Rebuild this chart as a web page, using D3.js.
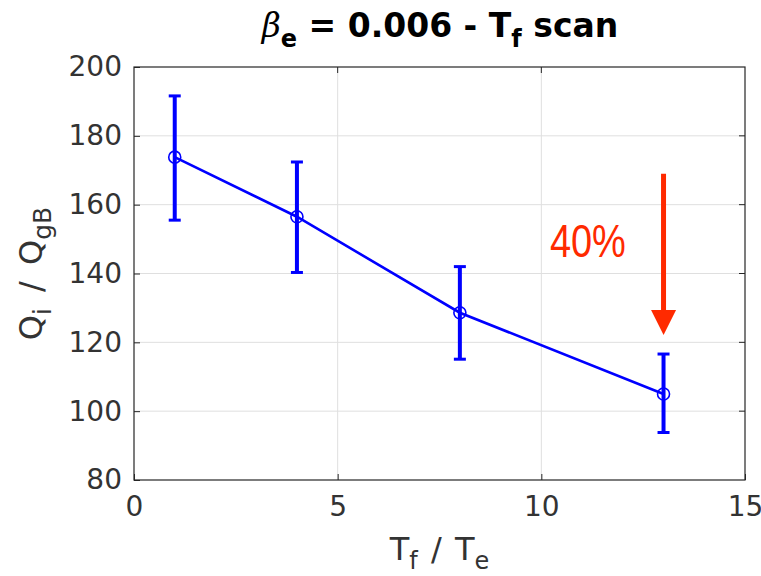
<!DOCTYPE html>
<html>
<head>
<meta charset="utf-8">
<script src="https://cdn.jsdelivr.net/npm/d3@7"></script>
<style>
  body { margin: 0; background: #fff; }
  svg { display: block; font-family: "DejaVu Sans", sans-serif; }
</style>
</head>
<body>
<svg id="chart" width="761" height="576"></svg>
<script>
// values
const tf = [1, 4, 8, 13];
const qi = [173.8, 156.5, 128.6, 105.0];
const qiLow = [155.5, 140.3, 115.1, 93.8];
const qiHigh = [191.6, 172.4, 142.0, 116.6];
const xTicks = [0, 5, 10, 15];
const yTicks = [80, 100, 120, 140, 160, 180, 200];

const width = 761, height = 576;
const margin = { top: 67, right: 16, bottom: 96, left: 134 };
const blue = "#0000ff", ink = "#262626", red = "#ff2a00";

const svg = d3.select("#chart");

const x = d3.scaleLinear().domain([0, 15]).range([margin.left, width - margin.right]);
const y = d3.scaleLinear().domain([80, 200]).range([height - margin.bottom, margin.top]);

// grid
svg.append("g")
  .selectAll("line.gx")
  .data(xTicks.slice(1, -1))
  .enter().append("line")
  .attr("x1", d => x(d)).attr("x2", d => x(d))
  .attr("y1", y(80)).attr("y2", y(200))
  .attr("stroke", "#dfdfdf").attr("stroke-width", 1);
svg.append("g")
  .selectAll("line.gy")
  .data(yTicks.slice(1, -1))
  .enter().append("line")
  .attr("x1", x(0)).attr("x2", x(15))
  .attr("y1", d => y(d)).attr("y2", d => y(d))
  .attr("stroke", "#dfdfdf").attr("stroke-width", 1);

// axes (ticks inside like matlab)
const xAxis = svg.append("g")
  .attr("transform", "translate(0," + y(80) + ")")
  .call(d3.axisBottom(x).tickValues(xTicks).tickSizeInner(-6).tickSizeOuter(0).tickPadding(16));
const yAxis = svg.append("g")
  .attr("transform", "translate(" + x(0) + ",0)")
  .call(d3.axisLeft(y).tickValues(yTicks).tickSizeInner(-6).tickSizeOuter(0).tickPadding(12));
[xAxis, yAxis].forEach(a => {
  a.select(".domain").remove();
  a.selectAll("line").attr("stroke", ink);
  a.selectAll("text").attr("fill", "#333").style("font-size", "28px")
    .style("font-family", "DejaVu Sans, sans-serif");
});
xAxis.selectAll("text").attr("dy", "0.71em");

// box
svg.append("rect")
  .attr("x", x(0)).attr("y", y(200))
  .attr("width", x(15) - x(0)).attr("height", y(80) - y(200))
  .attr("fill", "none").attr("stroke", ink).attr("stroke-width", 1.2);

// right-side and top ticks
svg.append("g").selectAll("line")
  .data(yTicks.slice(1, -1)).enter().append("line")
  .attr("x1", x(15)).attr("x2", x(15) - 6)
  .attr("y1", d => y(d)).attr("y2", d => y(d)).attr("stroke", ink);
svg.append("g").selectAll("line")
  .data(xTicks.slice(1, -1)).enter().append("line")
  .attr("x1", d => x(d)).attr("x2", d => x(d))
  .attr("y1", y(200)).attr("y2", y(200) + 6).attr("stroke", ink);

const pts = tf.map((t, i) => ({ t: t, q: qi[i], lo: qiLow[i], hi: qiHigh[i] }));

// connecting line
svg.append("path")
  .datum(pts)
  .attr("d", d3.line().x(d => x(d.t)).y(d => y(d.q)))
  .attr("fill", "none").attr("stroke", blue).attr("stroke-width", 2.6);

// error bars
const eb = svg.append("g").selectAll("g").data(pts).enter().append("g");
eb.append("line")
  .attr("x1", d => x(d.t)).attr("x2", d => x(d.t))
  .attr("y1", d => y(d.lo)).attr("y2", d => y(d.hi))
  .attr("stroke", blue).attr("stroke-width", 4);
eb.append("line")
  .attr("x1", d => x(d.t) - 6).attr("x2", d => x(d.t) + 6)
  .attr("y1", d => y(d.hi)).attr("y2", d => y(d.hi))
  .attr("stroke", blue).attr("stroke-width", 3);
eb.append("line")
  .attr("x1", d => x(d.t) - 6).attr("x2", d => x(d.t) + 6)
  .attr("y1", d => y(d.lo)).attr("y2", d => y(d.lo))
  .attr("stroke", blue).attr("stroke-width", 3);
eb.append("circle")
  .attr("cx", d => x(d.t)).attr("cy", d => y(d.q)).attr("r", 6)
  .attr("fill", "none").attr("stroke", blue).attr("stroke-width", 1.6);

// title
const title = svg.append("text")
  .attr("x", 440).attr("y", 37)
  .attr("text-anchor", "middle")
  .attr("fill", "#000")
  .style("font-size", "33px").style("font-weight", "bold");
title.append("tspan").text("β").style("font-style", "italic").style("font-weight", "normal")
  .style("font-family", "DejaVu Serif, serif");
title.append("tspan").text("e").attr("dy", 10).style("font-size", "24px");
title.append("tspan").text(" = 0.006 - T").attr("dy", -10);
title.append("tspan").text("f").attr("dy", 10).style("font-size", "24px");
title.append("tspan").text(" scan").attr("dy", -10);

// x label
const xl = svg.append("text")
  .attr("x", (x(0) + x(15)) / 2).attr("y", 560)
  .attr("text-anchor", "middle").attr("fill", "#333")
  .style("font-size", "32px").style("word-spacing", "3px");
xl.append("tspan").text("T");
xl.append("tspan").text("f").attr("dy", 9).style("font-size", "24px");
xl.append("tspan").text(" / T").attr("dy", -9);
xl.append("tspan").text("e").attr("dy", 9).style("font-size", "24px");

// y label
const yl = svg.append("text")
  .attr("transform", "translate(42," + ((y(80) + y(200)) / 2) + ") rotate(-90)")
  .attr("text-anchor", "middle").attr("fill", "#333")
  .style("font-size", "32px").style("word-spacing", "6px");
yl.append("tspan").text("Q");
yl.append("tspan").text("i").attr("dy", 9).style("font-size", "25px");
yl.append("tspan").text(" / Q").attr("dy", -9);
yl.append("tspan").text("gB").attr("dy", 9).style("font-size", "25px");

// annotation: 40% drop arrow
const ax = x(13), aTop = y(169), aTip = y(122.1);
svg.append("line")
  .attr("x1", ax).attr("x2", ax).attr("y1", aTop).attr("y2", aTip - 20)
  .attr("stroke", red).attr("stroke-width", 5);
svg.append("path")
  .attr("d", "M" + (ax - 12.5) + "," + (aTip - 25) + "L" + (ax + 12.5) + "," + (aTip - 25) + "L" + ax + "," + aTip + "Z")
  .attr("fill", red);
svg.append("text")
  .attr("x", x(10.21)).attr("y", y(144.8))
  .attr("fill", red)
  .attr("textLength", 76).attr("lengthAdjust", "spacingAndGlyphs")
  .style("font-family", "Liberation Sans, Arial, sans-serif")
  .style("font-size", "47px")
  .text("40%");
</script>
</body>
</html>
